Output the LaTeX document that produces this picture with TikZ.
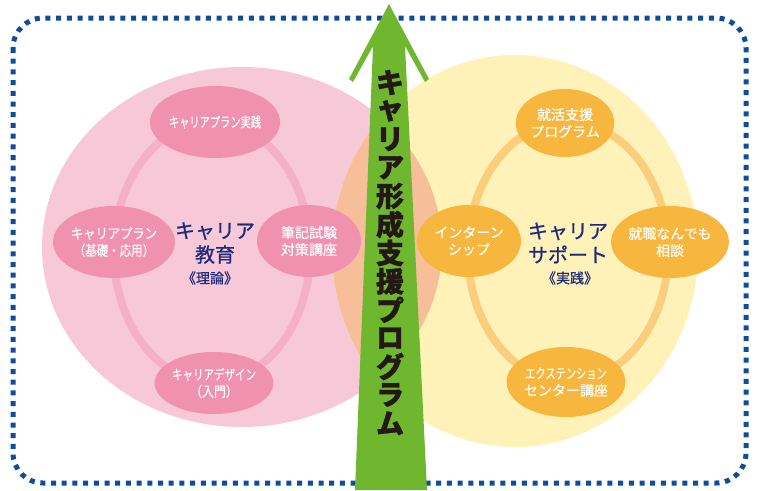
\documentclass[tikz,border=0pt]{standalone}
\usepackage{fontspec}
\usepackage{graphicx}
\setmainfont{Noto Sans CJK JP}
\newfontfamily\jpmed[FakeBold=0.8]{Noto Sans CJK JP}
\newfontfamily\jplight[FakeBold=0.4]{Noto Sans CJK JP}
\newfontfamily\jpheavy[BoldFeatures={FakeBold=1.2}]{Noto Sans CJK JP}
\usetikzlibrary{shapes.geometric}

\definecolor{edupink}{RGB}{247,200,215}
\definecolor{supyellow}{RGB}{255,242,185}
\definecolor{overlapcol}{RGB}{246,190,153}
\definecolor{pinkring}{RGB}{243,176,198}
\definecolor{pinkitem}{RGB}{239,145,175}
\definecolor{orangering}{RGB}{250,206,125}
\definecolor{orangeitem}{RGB}{247,182,62}
\definecolor{navy}{RGB}{30,42,122}
\definecolor{framecol}{RGB}{14,76,156}
\definecolor{arrowgreen}{RGB}{110,183,46}
\definecolor{ink}{RGB}{35,24,21}

\newcommand\sq[2]{\scalebox{#1}[1]{#2}}

\begin{document}
\begin{tikzpicture}[
		x=1pt,
		y=-1pt,
		item/.style={
			shape=ellipse,
			inner sep=0pt,
			minimum width=104pt,
			minimum height=72pt,
			text=white,
			align=center,
			font=\jplight\fontsize{14}{17}\selectfont,
		},
		eduitem/.style={item, fill=pinkitem},
		supitem/.style={item, fill=orangeitem},
		title/.style={
			text=navy,
			align=center,
			inner sep=0pt,
			font=\jpmed\fontsize{20}{24}\selectfont,
		},
		subtitle/.style={
			text=navy,
			inner sep=0pt,
			font=\jpmed\fontsize{14}{17}\selectfont,
		},
		arrowtext/.style={
			text=ink,
			inner sep=0pt,
			font=\jpheavy\fontsize{28}{28}\selectfont\bfseries,
		},
	]
		\useasboundingbox (0,0) rectangle (757,490);

		% dotted frame
		\draw[framecol, line width=5pt, dash pattern=on 5pt off 5.7pt,
			rounded corners=30pt] (13,18) rectangle (746,483);

		% two big circles and their overlap
		\fill[edupink] (242,247) ellipse [x radius=200pt, y radius=180pt];
		\fill[supyellow] (515,251) ellipse [x radius=183pt, y radius=196pt];
		\begin{scope}
			\clip (242,247) ellipse [x radius=200pt, y radius=180pt];
			\fill[overlapcol] (515,251) ellipse [x radius=183pt, y radius=196pt];
		\end{scope}

		% rings
		\draw[pinkring, line width=8pt] (212,252) ellipse [x radius=98pt, y radius=130pt];
		\draw[orangering, line width=8pt] (568,252) ellipse [x radius=100pt, y radius=130pt];

		% career education
		\node[eduitem] (practice) at (215,122) {\sq{0.73}{キャリアプラン実践}};
		\node[eduitem] (plan) at (114,242) {\sq{0.88}{キャリアプラン}\\\sq{0.82}{（基礎・応用）}};
		\node[eduitem] (exam) at (309,241) {筆記試験\\対策講座};
		\node[eduitem, minimum height=62pt] (design) at (214,383) {\sq{0.75}{キャリアデザイン}\\\sq{0.85}{（入門）}};
		\node[title] (edu) at (215,243) {キャリア\\教育};
		\node[subtitle] (theory) at (210,278) {《理論》};

		% career support
		\node[supitem, minimum width=96pt, minimum height=68pt] (job) at (565,123) {就活支援\\プログラム};
		\node[supitem] (intern) at (469,241) {インターン\\シップ};
		\node[supitem] (consult) at (670,242) {就職なんでも\\相談};
		\node[supitem, minimum width=98pt, minimum height=70pt] (ext) at (566,382) {\sq{0.73}{エクステンション}\\センター講座};
		\node[title] (sup) at (568,243) {キャリア\\サポート};
		\node[subtitle] (practice-sub) at (570,278) {《実践》};

		% growth arrow
		\fill[arrowgreen] (389,4) -- (429,79) -- (425,82) -- (405,46) -- (427,490)
			-- (355,490) -- (373,46) -- (353,82) -- (349,79) -- cycle;
		\foreach \ch [count=\i from 0] in {キ,ャ,リ,ア,形,成,支,援,プ,ロ,グ,ラ,ム}
			\node[arrowtext] (a\i) at (390,82.5+28.4*\i) {\ch};
\end{tikzpicture}
\end{document}
